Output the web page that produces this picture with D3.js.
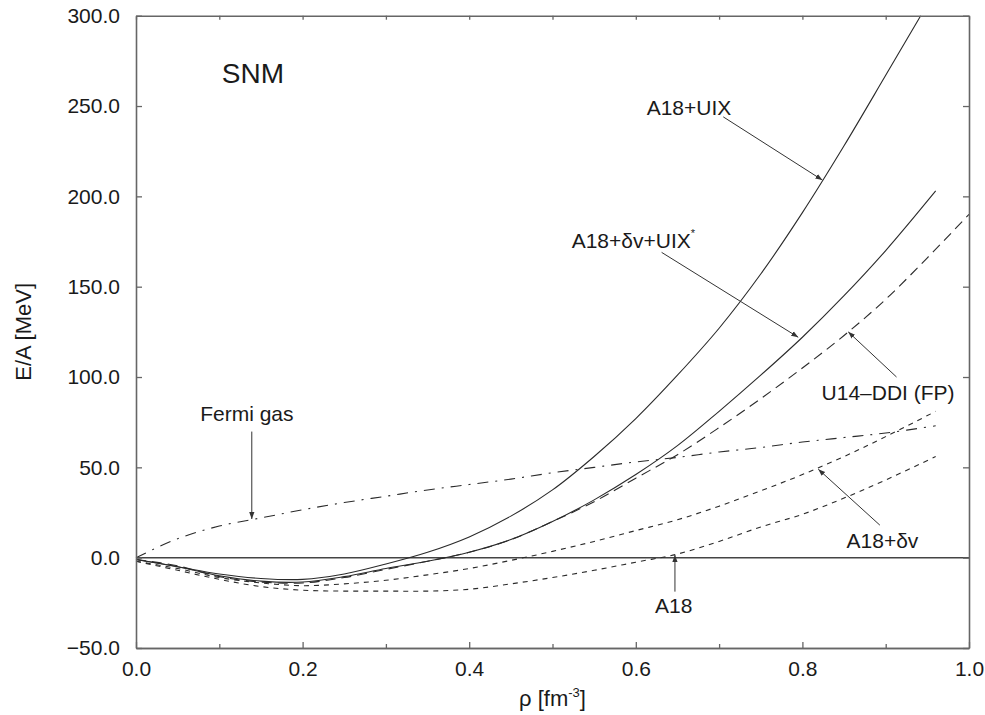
<!DOCTYPE html>
<html>
<head>
<meta charset="utf-8">
<script src="https://cdn.jsdelivr.net/npm/d3@7"></script>
<style>
  body { margin: 0; background: #fff; }
  text { font-family: "Liberation Sans", Arial, Helvetica, sans-serif; fill: #1a1a1a; }
</style>
</head>
<body>
<script>
// E/A of symmetric nuclear matter vs density

// density grid shared by most curves
var rho = [0.00, 0.05, 0.10, 0.15, 0.20, 0.25, 0.30, 0.35, 0.40, 0.45, 0.50,
           0.55, 0.60, 0.65, 0.70, 0.75, 0.80, 0.85, 0.90, 0.96];

// A18+UIX leaves the frame at the top, so its own grid
var rhoUIX = [0.00, 0.05, 0.10, 0.15, 0.20, 0.25, 0.30, 0.35, 0.40, 0.45, 0.50,
              0.55, 0.60, 0.65, 0.70, 0.75, 0.80, 0.85, 0.90, 0.942];
var eUIX   = [-1, -5, -9, -11.5, -12, -9, -3.5, 3, 11.5, 23, 37.5,
              56, 77, 101, 127, 157, 191, 228, 267, 300];

var eDvUIX = [-1, -5, -10, -13, -13.5, -10.5, -6, -2, 3, 10, 20,
              32, 46, 62, 81, 101, 122, 145, 170, 203];

// U14-DDI (FP) runs to rho = 1.0
var rhoU14 = [0.00, 0.05, 0.10, 0.15, 0.20, 0.25, 0.30, 0.35, 0.40, 0.45, 0.50,
              0.55, 0.60, 0.65, 0.70, 0.75, 0.80, 0.85, 0.90, 0.95, 1.00];
var eU14   = [-1, -4.5, -10.5, -13.5, -14, -11, -6.5, -2, 3, 10, 20,
              31, 44, 57, 72, 88, 105, 123, 143, 166, 190];

var eFermi = [0, 10.5, 17.5, 22, 26.5, 30.5, 34, 37.5, 40.5, 43.5, 47,
              50, 53, 55.5, 58.5, 61, 64, 66.5, 69, 73];

var eDv    = [-2, -6, -11, -14, -15.5, -14.5, -12.5, -9.5, -6, -1.5, 3.5,
              9, 15, 21, 28.5, 37, 46, 56, 67, 81];

var eA18   = [-2, -7, -12, -16, -18, -18.5, -18.5, -18.5, -17.5, -14.5, -11,
              -7, -2.5, 2, 9, 17, 24, 33, 43, 56];

var xTicks = [0, 0.2, 0.4, 0.6, 0.8, 1.0];
var xMinor = [0.1, 0.3, 0.5, 0.7, 0.9];
var yTicks = [-50, 0, 50, 100, 150, 200, 250, 300];

var series = [
  {name: 'A18+UIX',     x: rhoUIX, y: eUIX,   dash: null},
  {name: 'A18+dv+UIX*', x: rho,    y: eDvUIX, dash: null},
  {name: 'U14-DDI',     x: rhoU14, y: eU14,   dash: '10,6'},
  {name: 'Fermi gas',   x: rho,    y: eFermi, dash: '11,7,2,7'},
  {name: 'A18+dv',      x: rho,    y: eDv,    dash: '5,5'},
  {name: 'A18',         x: rho,    y: eA18,   dash: '5,5'}
];

// labels with leader arrows, in data units: text anchor, arrow from, arrow to
var notes = [
  {t: 'A18+UIX',      at: [0.613, 245], from: [0.705, 244], to: [0.824, 209]},
  {t: 'A18+δv+UIX',   at: [0.523, 171.5], from: [0.631, 169], to: [0.795, 122], sup: '*'},
  {t: 'U14–DDI (FP)', at: [0.823, 87.3], from: [0.913, 100], to: [0.855, 125]},
  {t: 'Fermi gas',    at: [0.077, 75.7], from: [0.139, 69.8], to: [0.139, 21.4]},
  {t: 'A18+δv',       at: [0.853, 5.4], from: [0.893, 18], to: [0.819, 49]},
  {t: 'A18',          at: [0.623, -30.6], from: [0.647, -18.8], to: [0.647, 1.5]}
];

var W = 985, H = 715;
var x = d3.scaleLinear().domain([0, 1]).range([136, 969]);
var y = d3.scaleLinear().domain([-50, 300]).range([648, 15.7]);

var svg = d3.select('body').append('svg')
    .attr('width', W)
    .attr('height', H);

svg.append('defs').append('marker')
    .attr('id', 'arr')
    .attr('viewBox', '0 -4 8 8')
    .attr('refX', 8).attr('refY', 0)
    .attr('markerWidth', 7).attr('markerHeight', 7)
    .attr('markerUnits', 'userSpaceOnUse')
    .attr('orient', 'auto')
  .append('path')
    .attr('d', 'M0,-3L8,0L0,3Z')
    .attr('fill', '#333');

var frame = '#666';

// zero line
svg.append('line')
    .attr('x1', x(0)).attr('x2', x(1))
    .attr('y1', y(0)).attr('y2', y(0))
    .attr('stroke', '#444')
    .attr('stroke-width', 1.5);

// curves
var line = d3.line()
    .x(function (d) { return x(d[0]) })
    .y(function (d) { return y(d[1]) })
    .curve(d3.curveCatmullRom.alpha(0.5));

series.forEach(function (s) {
  var pts = s.x.map(function (v, i) { return [v, s.y[i]] });
  svg.append('path')
      .attr('d', line(pts))
      .attr('fill', 'none')
      .attr('stroke', '#2a2a2a')
      .attr('stroke-width', 1.1)
      .attr('stroke-dasharray', s.dash);
});

// axes, ticks pointing inward
function styleAxis(g) {
  g.selectAll('.domain').attr('stroke', frame).attr('stroke-width', 1.6);
  g.selectAll('.tick line').attr('stroke', frame).attr('stroke-width', 1.3);
  g.selectAll('.tick text').attr('fill', '#1a1a1a')
      .style('font-family', '"Liberation Sans", Arial, sans-serif')
      .style('font-size', '21px');
}

svg.append('g')
    .attr('transform', 'translate(0,' + y(-50) + ')')
    .call(d3.axisBottom(x).tickValues(xTicks).tickFormat(d3.format('.1f'))
      .tickSizeInner(-6).tickSizeOuter(0).tickPadding(13))
    .call(styleAxis);
svg.append('g')
    .attr('transform', 'translate(0,' + y(-50) + ')')
    .call(d3.axisBottom(x).tickValues(xMinor).tickFormat('')
      .tickSizeInner(-4).tickSizeOuter(0))
    .call(styleAxis);
svg.append('g')
    .attr('transform', 'translate(0,' + y(300) + ')')
    .call(d3.axisTop(x).tickValues(xTicks.concat(xMinor)).tickFormat('')
      .tickSizeInner(-4).tickSizeOuter(0))
    .call(styleAxis);
svg.append('g')
    .attr('transform', 'translate(' + x(0) + ',0)')
    .call(d3.axisLeft(y).tickValues(yTicks).tickFormat(d3.format('.1f'))
      .tickSizeInner(-6).tickSizeOuter(0).tickPadding(16))
    .call(styleAxis);
svg.append('g')
    .attr('transform', 'translate(' + x(1) + ',0)')
    .call(d3.axisRight(y).tickValues(yTicks).tickFormat('')
      .tickSizeInner(-6).tickSizeOuter(0))
    .call(styleAxis);

// axis titles
svg.append('text')
    .attr('x', x(0.5)).attr('y', 706)
    .style('text-anchor', 'middle')
    .style('font-size', '22px')
    .text('ρ [fm')
  .append('tspan')
    .attr('dy', -9).style('font-size', '13px').text('-3')
  .select(function () { return this.parentNode })
  .append('tspan')
    .attr('dy', 9).text(']');

svg.append('text')
    .attr('transform', 'translate(31,' + y(125) + ') rotate(-90)')
    .style('text-anchor', 'middle')
    .style('font-size', '22px')
    .text('E/A [MeV]');

svg.append('text')
    .attr('x', x(0.103)).attr('y', y(262.8))
    .style('font-size', '28px')
    .text('SNM');

// annotations
notes.forEach(function (n) {
  svg.append('line')
      .attr('x1', x(n.from[0])).attr('y1', y(n.from[1]))
      .attr('x2', x(n.to[0])).attr('y2', y(n.to[1]))
      .attr('stroke', '#333')
      .attr('stroke-width', 1)
      .attr('marker-end', 'url(#arr)');
  var t = svg.append('text')
      .attr('x', x(n.at[0])).attr('y', y(n.at[1]))
      .style('font-size', '21px')
      .text(n.t);
  if (n.sup) {
    t.append('tspan').attr('dy', -11).style('font-size', '11px').text(n.sup);
  }
});
</script>
</body>
</html>
